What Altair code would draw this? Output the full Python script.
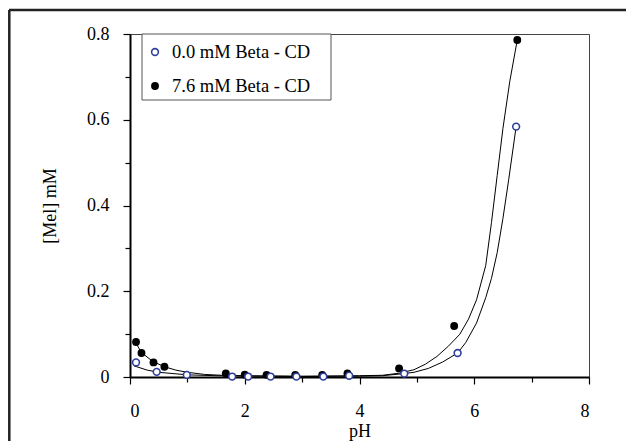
import altair as alt
import pandas as pd

# ---- data ----
ph_open = [0.105, 0.465, 0.99, 1.78, 2.06, 2.45, 2.9, 3.37, 3.82, 4.78, 5.71, 6.73]
mel_open = [0.034, 0.012, 0.005, 0.001, 0.001, 0.001, 0.001, 0.001, 0.003, 0.008, 0.056, 0.584]

ph_fill = [0.105, 0.2, 0.41, 0.6, 1.67, 2.0, 2.38, 2.88, 3.35, 3.79, 4.69, 5.65, 6.75]
mel_fill = [0.0815, 0.056, 0.034, 0.024, 0.0084, 0.0054, 0.005, 0.005, 0.005, 0.0084, 0.020, 0.119, 0.786]

fit_ph_00 = [0.07, 0.3, 0.5, 0.75, 1.0, 1.5, 2.0, 3.0, 4.0, 4.4, 4.78, 4.95, 5.2, 5.45, 5.71,
             5.85, 6.04, 6.2, 6.3, 6.4, 6.5, 6.6, 6.73]
fit_mel_00 = [0.026, 0.016, 0.011, 0.008, 0.005, 0.003, 0.002, 0.001, 0.002, 0.003, 0.008, 0.011,
              0.020, 0.035, 0.056, 0.080, 0.126, 0.185, 0.23, 0.29, 0.37, 0.46, 0.584]

fit_ph_76 = [0.1, 0.2, 0.4, 0.6, 0.8, 1.0, 1.3, 1.6, 2.0, 3.0, 4.0, 4.4, 4.7, 4.95, 5.15, 5.35,
             5.55, 5.75, 5.9, 6.04, 6.2, 6.3, 6.4, 6.5, 6.62, 6.75]
fit_mel_76 = [0.080, 0.057, 0.036, 0.024, 0.016, 0.011, 0.006, 0.004, 0.003, 0.002, 0.003, 0.004,
              0.009, 0.017, 0.030, 0.048, 0.072, 0.100, 0.135, 0.180, 0.260, 0.360, 0.470, 0.580,
              0.690, 0.786]

legend_labels = ["0.0 mM Beta - CD", "7.6 mM Beta - CD"]
x_ticks = [i * 0.5 for i in range(17)]
y_ticks = [0, 0.1, 0.2, 0.3, 0.4, 0.5, 0.6, 0.7, 0.8]

FONT = "Liberation Serif"
BLUE = "#2e3f9e"

open_df = pd.DataFrame({"pH": ph_open, "Mel": mel_open})
fill_df = pd.DataFrame({"pH": ph_fill, "Mel": mel_fill})
fit_df = pd.concat([
    pd.DataFrame({"pH": fit_ph_00, "Mel": fit_mel_00, "s": legend_labels[0], "o": range(len(fit_ph_00))}),
    pd.DataFrame({"pH": fit_ph_76, "Mel": fit_mel_76, "s": legend_labels[1], "o": range(len(fit_ph_76))}),
])

x_axis = alt.Axis(
    title="pH", values=x_ticks,
    labelExpr="datum.value % 2 === 0 ? format(datum.value, 'd') : ''",
    tickSize={"condition": {"test": "datum.value % 2 === 0", "value": 7}, "value": 5},
    labelPadding=18, titlePadding=2, grid=False,
)
y_axis = alt.Axis(
    title="[Mel] mM", values=y_ticks,
    labelExpr="abs(datum.value*5 - round(datum.value*5)) < 0.001 ? (datum.value == 0 ? '0' : format(datum.value, '.1f')) : ''",
    tickSize={"condition": {"test": "abs(datum.value*5 - round(datum.value*5)) < 0.001", "value": 7}, "value": 5},
    labelPadding=14, titlePadding=27, grid=False,
)

xs = alt.Scale(domain=[0, 8], nice=False, zero=False)
ys = alt.Scale(domain=[0, 0.8], nice=False)

lines = alt.Chart(fit_df).mark_line(color="black", strokeWidth=1).encode(
    x=alt.X("pH:Q", scale=xs, axis=x_axis),
    y=alt.Y("Mel:Q", scale=ys, axis=y_axis),
    detail="s:N",
    order="o:Q",
)
filled = alt.Chart(fill_df).mark_point(filled=True, color="black", size=62, opacity=1).encode(
    x="pH:Q", y="Mel:Q")
opened = alt.Chart(open_df).mark_point(filled=False, fill="white", color=BLUE, strokeWidth=1.6,
                                       size=46, opacity=1).encode(x="pH:Q", y="Mel:Q")

one = pd.DataFrame({"a": [0]})
# legend box (manual)
leg_box = alt.Chart(one).mark_rect(
    fill="white", stroke="#555", strokeWidth=1).encode(
    x=alt.value(12), x2=alt.value(201), y=alt.value(0), y2=alt.value(66))
leg_sym0 = alt.Chart(one).mark_point(
    filled=False, fill="white", color=BLUE, strokeWidth=1.6, size=46, opacity=1).encode(
    x=alt.value(25), y=alt.value(18))
leg_sym1 = alt.Chart(one).mark_point(
    filled=True, color="black", size=62, opacity=1).encode(
    x=alt.value(25), y=alt.value(52))
leg_txt0 = alt.Chart(pd.DataFrame({"label": [legend_labels[0]]})).mark_text(
    align="left", baseline="middle", font=FONT, fontSize=18.5, color="black").encode(
    x=alt.value(42), y=alt.value(18), text="label:N")
leg_txt1 = alt.Chart(pd.DataFrame({"label": [legend_labels[1]]})).mark_text(
    align="left", baseline="middle", font=FONT, fontSize=18.5, color="black").encode(
    x=alt.value(42), y=alt.value(52), text="label:N")

# outer frame lines
frame_top = alt.Chart(one).mark_rule(color="#222", strokeWidth=2.5).encode(
    x=alt.value(-121), x2=alt.value(520), y=alt.value(-24))
frame_left = alt.Chart(one).mark_rule(color="#222", strokeWidth=2.5).encode(
    x=alt.value(-120.7), y=alt.value(-24), y2=alt.value(420))

chart = alt.layer(
    frame_top, frame_left, lines, filled, opened, leg_box, leg_sym0, leg_sym1, leg_txt0, leg_txt1
).properties(
    width=459, height=343,
    autosize=alt.AutoSizeParams(type="none"),
    padding={"left": 122, "top": 26, "right": 37, "bottom": 64},
).configure_view(stroke="#444", strokeWidth=1).configure_axis(
    labelFont=FONT, titleFont=FONT, labelFontSize=18, titleFontSize=18,
    labelColor="black", titleColor="black", titleFontWeight="normal",
    domainColor="black", domainWidth=2, tickColor="black", tickWidth=1.2,
)

chart.save("out.html", embed_options={"renderer": "svg", "actions": False})
